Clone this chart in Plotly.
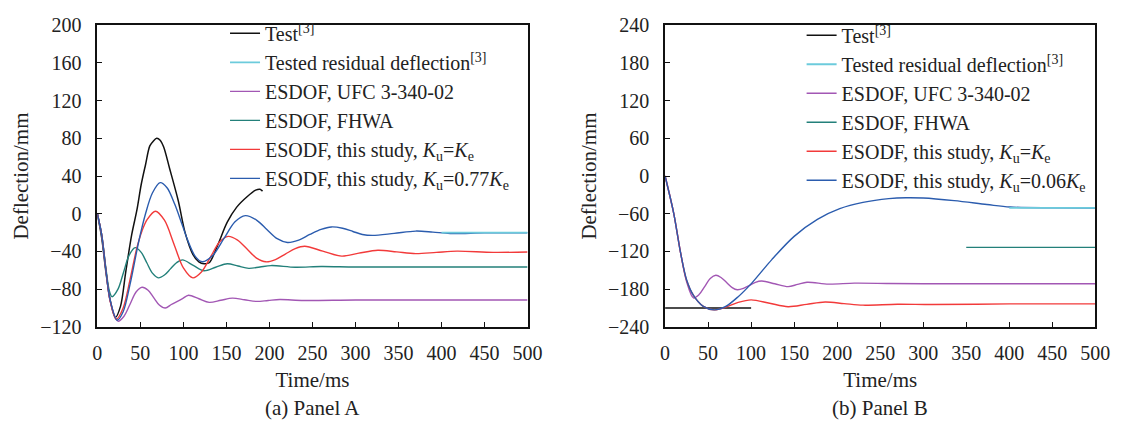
import plotly.graph_objects as go

# ---------------- Panel A data (time in ms, deflection in mm) ----------------
a_test_t = [0, 5, 10, 15, 21, 27, 33, 40, 46, 51, 56, 61, 65, 69, 73, 77, 84, 94,
            102, 111, 118, 124, 130, 140, 151, 162, 174, 184, 189, 192]
a_test_v = [0, -25, -62, -92, -110, -98, -62, -22, 4, 31, 52, 72, 77, 80, 78, 71, 48, 14,
            -20, -43, -51, -53, -52, -33, -9, 7, 18, 25, 26, 24]

a_resid_t = [400, 500]
a_resid_v = [-20, -20]

a_ufc_t = [0, 5, 10, 15, 24, 31, 38, 45, 52, 59, 65.5, 72, 79, 86, 92.5, 99, 106,
           118, 130, 143.5, 157, 171, 185, 198.5, 212, 240, 300, 400, 500]
a_ufc_v = [0, -22, -60, -93, -114, -108.7, -96, -83, -78, -81.2, -89, -96.8, -100,
           -96.3, -93.2, -90, -86.5, -90.2, -94, -91.8, -89.5, -91.2, -93, -92, -91,
           -92, -91.5, -91.5, -91.5]

a_fhwa_t = [0, 5, 10, 14, 17, 24, 30.5, 37, 44, 51, 57.5, 64, 71, 78, 85, 92, 99,
            111.5, 124, 137.5, 151, 163.5, 176, 189, 202, 230, 260, 300, 400, 500]
a_fhwa_v = [0, -22, -58, -82, -88, -80, -62, -44, -36, -41, -52, -63, -68, -65, -58.5,
            -52, -49, -54.8, -60.5, -56.8, -53, -55.5, -58, -56.5, -55, -56.8, -56,
            -56.5, -56.5, -56.5]

a_ke_t = [0, 5, 10, 15, 22, 30, 38, 46, 52, 58, 67.5, 78, 89, 100, 111, 121, 131.5,
          142, 152, 163, 174, 185, 196, 207, 218.5, 230, 241, 262, 284, 304, 326,
          348, 370, 394, 418, 460, 500]
a_ke_v = [0, -22, -60, -93, -112, -100, -70, -36, -18, -6, 2.7, -6.9, -32, -57.5, -68,
          -61.8, -46, -30, -24, -27.9, -37.5, -47, -51, -48.6, -42.8, -37, -34.5,
          -39.7, -45, -41.8, -38.7, -40.5, -42.3, -41, -39.7, -41, -40.6]

a_077_t = [0, 5, 10, 15, 23, 30, 38, 48, 56, 64, 73, 81, 90, 98, 105, 114, 122, 134,
           147, 160, 172, 185, 197, 209, 221, 234, 247, 260, 272, 285, 297, 308, 320,
           345, 370, 390, 410, 450, 500]
a_077_v = [0, -22, -60, -92, -113, -104, -75, -30, 0, 22, 33, 27.6, 10, -10, -28, -45.5,
           -51, -44.4, -26.5, -8.6, -2, -6.7, -16.7, -26.5, -30.5, -28, -22, -16.6, -14,
           -15.4, -18.8, -22, -23, -20.8, -18.4, -19.5, -21, -20.3, -20.2]

# ---------------- Panel B data (time in ms, deflection in mm) ----------------
b_test_t = [0, 100]
b_test_v = [-210, -210]

b_resid_t = [400, 500]
b_resid_v = [-50.8, -50.8]

b_ufc_t = [0, 10, 18, 25, 33, 39.5, 46, 52.5, 59, 65, 71.5, 78, 84, 91, 98, 105, 112,
           127.5, 143, 154, 165, 190, 220, 260, 300, 400, 500]
b_ufc_v = [0, -59, -122, -168, -194, -188.7, -176, -163, -158, -161.5, -169.5, -177.5,
           -181, -178.9, -174, -169.1, -167, -171.5, -176, -172.5, -169, -172, -170.5,
           -171, -171.5, -171.5, -171.5]

b_fhwa_t = [350, 500]
b_fhwa_v = [-113.6, -113.6]

b_ke_t = [0, 10, 18, 25, 33, 44, 57, 70, 85, 100, 121.5, 143, 164.5, 186, 208, 230,
          270, 310, 400, 500]
b_ke_v = [0, -59, -122, -166, -190, -207, -213, -209, -201, -197, -202.5, -208,
          -204.2, -200.5, -203, -205.5, -204, -204.5, -203.5, -203.5]

b_006_t = [0, 10, 18, 25, 33, 44, 57, 70, 85, 101, 124, 150, 177, 203, 230, 260, 280,
           300, 336, 374, 401, 450, 500]
b_006_v = [0, -59, -122, -165, -190, -207, -213, -208, -192, -170, -133, -96, -69,
           -52, -42, -36, -34.5, -35, -39.2, -45.3, -49.3, -50.5, -50.8]

names_a = ["Test<sup>[3]</sup>", "Tested residual deflection<sup>[3]</sup>",
           "ESDOF, UFC 3-340-02", "ESDOF, FHWA",
           "ESODF, this study, <i>K</i><sub>u</sub>=<i>K</i><sub>e</sub>",
           "ESODF, this study, <i>K</i><sub>u</sub>=0.77<i>K</i><sub>e</sub>"]
names_b = names_a[:5] + ["ESODF, this study, <i>K</i><sub>u</sub>=0.06<i>K</i><sub>e</sub>"]

colors = ["#111111", "#6ccbdc", "#a257b4", "#23807a", "#f23a3a", "#2b5cae"]
widths = [1.5, 1.8, 1.4, 1.4, 1.4, 1.4]

FONT = "Liberation Serif, Times New Roman, Times, serif"
W, H = 1127, 427

fig = go.Figure()

series_a = [(a_test_t, a_test_v), (a_resid_t, a_resid_v), (a_ufc_t, a_ufc_v),
            (a_fhwa_t, a_fhwa_v), (a_ke_t, a_ke_v), (a_077_t, a_077_v)]
series_b = [(b_test_t, b_test_v), (b_resid_t, b_resid_v), (b_ufc_t, b_ufc_v),
            (b_fhwa_t, b_fhwa_v), (b_ke_t, b_ke_v), (b_006_t, b_006_v)]

# residual line drawn last so it sits on top of the converging curve
draw_order = [0, 2, 3, 4, 5, 1]

for panel, series, names, xa, ya, leg in [
        ("A", series_a, names_a, "x", "y", "legend"),
        ("B", series_b, names_b, "x2", "y2", "legend2")]:
    for i in draw_order:
        t, v = series[i]
        fig.add_trace(go.Scatter(
            x=t, y=v, mode="lines", name=names[i],
            line=dict(color=colors[i], width=widths[i], shape="spline", smoothing=0.9),
            xaxis=xa, yaxis=ya, legend=leg, legendrank=i + 1,
            hoverinfo="skip"))

def px_x(p):
    return p / W

def px_y(p):
    return (H - p) / H

axis_common = dict(
    showline=True, linecolor="#111", linewidth=1.5, mirror=True,
    ticks="inside", ticklen=5, tickwidth=1.3, tickcolor="#111",
    showgrid=False, zeroline=False,
    tickfont=dict(family=FONT, size=20, color="#222"),
    title_font=dict(family=FONT, size=21, color="#222"),
)
x_extra = dict(ticklabelstandoff=7)
y_extra = dict(ticklabelstandoff=10)

fig.update_layout(
    width=W, height=H,
    margin=dict(l=0, r=0, t=0, b=0),
    paper_bgcolor="white", plot_bgcolor="white",
    font=dict(family=FONT, color="#222"),
    xaxis=dict(domain=[px_x(94), px_x(532)], range=[0, 500], dtick=50,
               anchor="y", title=dict(text="Time/ms", standoff=10),
               **axis_common, **x_extra),
    yaxis=dict(domain=[px_y(333), px_y(15)], range=[-120, 200], dtick=40,
               anchor="x", title=dict(text="Deflection/mm", standoff=6),
               **axis_common, **y_extra),
    xaxis2=dict(domain=[px_x(672), px_x(1110)], range=[0, 500], dtick=50,
                anchor="y2", title=dict(text="Time/ms", standoff=10),
                **axis_common, **x_extra),
    yaxis2=dict(domain=[px_y(333), px_y(15)], range=[-240, 240], dtick=60,
                anchor="x2", title=dict(text="Deflection/mm", standoff=6),
                **axis_common, **y_extra),
    legend=dict(x=px_x(224), y=px_y(3), xanchor="left", yanchor="top",
                bgcolor="rgba(0,0,0,0)", borderwidth=0, tracegroupgap=0,
                font=dict(family=FONT, size=20, color="#222")),
    legend2=dict(x=px_x(811), y=px_y(5), xanchor="left", yanchor="top",
                 bgcolor="rgba(0,0,0,0)", borderwidth=0, tracegroupgap=0,
                 font=dict(family=FONT, size=20, color="#222")),
    annotations=[
        dict(text="(a) Panel A", x=(px_x(94) + px_x(532)) / 2, y=px_y(419),
             xref="paper", yref="paper", showarrow=False, xanchor="center",
             yanchor="middle", font=dict(family=FONT, size=21, color="#222")),
        dict(text="(b) Panel B", x=(px_x(672) + px_x(1110)) / 2, y=px_y(419),
             xref="paper", yref="paper", showarrow=False, xanchor="center",
             yanchor="middle", font=dict(family=FONT, size=21, color="#222")),
    ],
)

fig.write_html("out.html")
